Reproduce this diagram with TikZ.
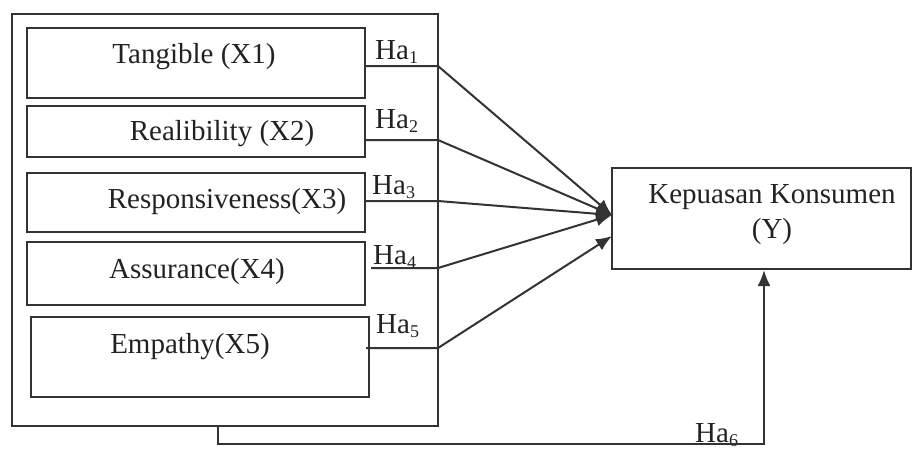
\documentclass[tikz,border=0pt]{standalone}
\usepackage{fontspec}
\setmainfont{Liberation Serif}
\usetikzlibrary{arrows.meta}
\definecolor{ink}{HTML}{222222}
\definecolor{edge}{HTML}{333333}
\newcommand\hsub[1]{\raisebox{-0.14em}{\fontsize{18}{20}\selectfont #1}}
\tikzset{
  vbox/.style={draw=edge, line width=2pt, inner sep=0pt},
  lbl/.style={text=ink, inner sep=0pt, font=\fontsize{29}{33}\selectfont},
  halbl/.style={lbl, anchor=base west},
  conn/.style={draw=edge, line width=2pt},
  arr/.style={conn, -{Latex[length=16pt,width=13pt]}},
}
\begin{document}
\begin{tikzpicture}[x=1pt,y=-1pt]
\useasboundingbox (0,0) rectangle (912,451);
% outer box
\node[vbox, minimum width=426pt, minimum height=412pt] (outer) at (225,220) {};
% inner boxes
\node[vbox, minimum width=338pt, minimum height=70pt] (b1) at (196,63) {};
\node[vbox, minimum width=338pt, minimum height=51pt] (b2) at (196,131.5) {};
\node[vbox, minimum width=338pt, minimum height=59pt] (b3) at (196,202.5) {};
\node[vbox, minimum width=338pt, minimum height=63pt] (b4) at (196,273.5) {};
\node[vbox, minimum width=338pt, minimum height=80pt] (b5) at (200,357) {};
% texts
\node[lbl] (t1) at (194,57) {Tangible (X1)};
\node[lbl] (t2) at (222,134) {Realibility (X2)};
\node[lbl] (t3) at (227,202) {Responsiveness(X3)};
\node[lbl] (t4) at (197,272) {Assurance(X4)};
\node[lbl] (t5) at (190,347) {Empathy(X5)};
% Y box
\node[vbox, minimum width=299pt, minimum height=101pt] (Y) at (761.5,218.5) {};
\node[lbl, align=center] (ty) at (772,215) {Kepuasan Konsumen\\[2pt](Y)};
% Ha labels
\node[halbl] (h1) at (375,59) {Ha\hsub{1}};
\node[halbl] (h2) at (375,128) {Ha\hsub{2}};
\node[halbl] (h3) at (372,194) {Ha\hsub{3}};
\node[halbl] (h4) at (373,264) {Ha\hsub{4}};
\node[halbl] (h5) at (376,333) {Ha\hsub{5}};
\node[halbl] (h6) at (695,442) {Ha\hsub{6}};
% junctions
\coordinate (j1) at (438,66);
\coordinate (j2) at (438,140);
\coordinate (j3) at (438,201);
\coordinate (j4) at (438,268);
\coordinate (j5) at (438,348);
\coordinate (tp) at (612,215);
\coordinate (tq) at (612,236);
\path[arr] (b1.east |- j1) -- (j1) -- (tp);
\path[arr] (b2.east |- j2) -- (j2) -- (tp);
\path[arr] (b3.east |- j3) -- (j3) -- (tp);
\path[arr] ([xshift=5pt]b4.east |- j4) -- (j4) -- (tp);
\path[arr] ([xshift=-4pt]b5.east |- j5) -- (j5) -- (tq);
% Ha6
\coordinate (k1) at (218,444);
\coordinate (k2) at (764,444);
\path[arr] (outer.south -| k1) -- (k1) -- (k2) -- (Y.south -| k2);
\end{tikzpicture}
\end{document}
